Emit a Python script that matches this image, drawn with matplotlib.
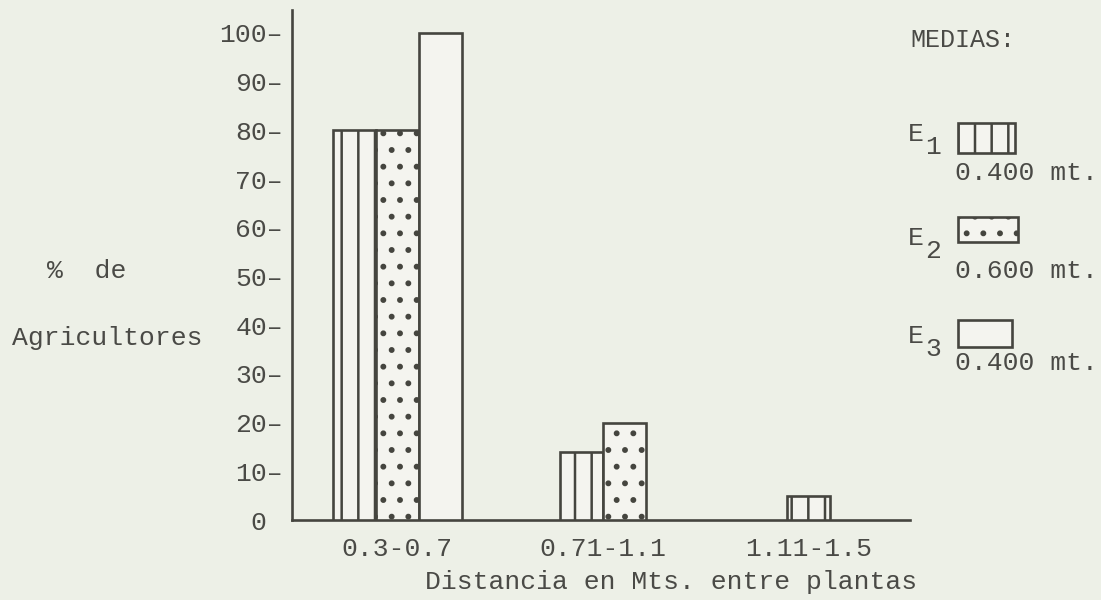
import matplotlib
matplotlib.use("Agg")
import matplotlib.pyplot as plt
from matplotlib.patches import Rectangle
import numpy as np

# data
categories = ["0.3-0.7", "0.71-1.1", "1.11-1.5"]
e1 = [80, 14, 5]
e2 = [80, 20, 0]
e3 = [100, 0, 0]
series_names = ["E1", "E2", "E3"]
series_means = ["0.400 mt.", "0.600 mt.", "0.400 mt."]
yticks = list(range(0, 101, 10))

bg = "#edf0e7"
ink = "#45453f"
txt = "#4a4a46"
face = "#f4f4ef"
hatches = ["|", ".", ""]

plt.rcParams["font.family"] = ["Liberation Mono", "DejaVu Sans Mono"]
plt.rcParams["hatch.linewidth"] = 1.8
plt.rcParams["hatch.color"] = ink

fig = plt.figure(figsize=(11.01, 6.0), dpi=100, facecolor=bg)
W, H = 1101.0, 600.0
ax = fig.add_axes([292 / W, 1 - 520 / H, (910 - 292) / W, (520 - 10) / H])
ax.set_facecolor(bg)

width = 0.21
data = [e1, e2, e3]
for g in range(len(categories)):
    # only the bars that are drawn are centred on the group
    present = [s for s in range(3) if data[s][g] > 0]
    n = len(present)
    for k, s in enumerate(present):
        x = g + (k - (n - 1) / 2.0) * width
        ax.bar(x, data[s][g], width=width, facecolor=face, edgecolor=ink,
               linewidth=1.9, hatch=hatches[s], zorder=3)

ax.set_xlim(-0.513, 2.494)
ax.set_ylim(0, 104.7)

for side in ["top", "right"]:
    ax.spines[side].set_visible(False)
for side in ["left", "bottom"]:
    ax.spines[side].set_linewidth(1.9)
    ax.spines[side].set_color(ink)

ax.set_yticks(yticks)
ax.set_yticklabels([(str(v) + "\u2013") if v > 0 else "0 " for v in yticks])
ax.set_xticks(range(len(categories)))
ax.set_xticklabels(categories)
ax.tick_params(axis="both", length=0, labelsize=19, colors=txt)
ax.tick_params(axis="y", pad=6.5)
ax.tick_params(axis="x", pad=12)

fig.text(671 / W, 1 - 582 / H, "Distancia en Mts. entre plantas", fontsize=19,
         color=txt, ha="center", va="center")
fig.text(47 / W, 1 - 271 / H, "%  de", fontsize=19, color=txt, ha="left", va="center")
fig.text(12 / W, 1 - 338 / H, "Agricultores", fontsize=19, color=txt, ha="left", va="center")

# legend
fig.text(910 / W, 1 - 40 / H, "MEDIAS:", fontsize=18, color=txt, ha="left", va="center")
boxes = [(958, 123, 1015, 153), (958, 217, 1018, 242), (958, 320, 1012, 347)]
e_y = [134, 238, 336]
mean_y = [173, 271, 363]
for i in range(3):
    x0, y0, x1, y1 = boxes[i]
    fig.add_artist(Rectangle((x0 / W, 1 - y1 / H), (x1 - x0) / W, (y1 - y0) / H,
                             transform=fig.transFigure, facecolor=face, edgecolor=ink,
                             linewidth=1.9, hatch=hatches[i]))
    fig.text(908 / W, 1 - e_y[i] / H, series_names[i][0], fontsize=19, color=txt,
             ha="left", va="center")
    fig.text(925 / W, 1 - (e_y[i] + 13) / H, series_names[i][1], fontsize=19, color=txt,
             ha="left", va="center")
    fig.text(955 / W, 1 - mean_y[i] / H, series_means[i], fontsize=19, color=txt,
             ha="left", va="center")

fig.savefig("out.png", dpi=100, facecolor=bg)
